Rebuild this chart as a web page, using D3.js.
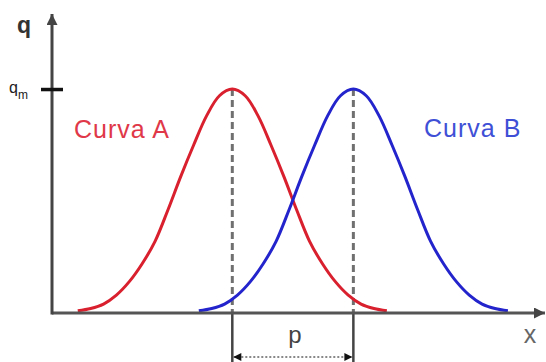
<!DOCTYPE html>
<html>
<head>
<meta charset="utf-8">
<script src="https://cdn.jsdelivr.net/npm/d3@7"></script>
<style>
  html, body { margin: 0; padding: 0; background: #fff; }
  svg { display: block; font-family: "Liberation Sans", Arial, sans-serif; }
</style>
</head>
<body>
<svg id="chart" width="546" height="362"></svg>
<script>
// Curve A samples: position along x and height q
const curveAx = [0.5, 0.75, 1.0, 1.25, 1.5, 1.75, 2.0, 2.25, 2.5, 2.75, 3.0, 3.25, 3.5,
                 3.75, 4.0, 4.25, 4.5, 4.75, 5.0, 5.25, 5.5, 5.75, 6.0, 6.25, 6.5];
const curveAq = [0.01, 0.02, 0.04, 0.08, 0.14, 0.22, 0.32, 0.46, 0.61, 0.75, 0.88, 0.97, 1.0,
                 0.97, 0.88, 0.75, 0.61, 0.46, 0.32, 0.22, 0.14, 0.08, 0.04, 0.02, 0.01];
// Curve B samples
const curveBx = [2.85, 3.1, 3.35, 3.6, 3.85, 4.1, 4.35, 4.6, 4.85, 5.1, 5.35, 5.6, 5.85,
                 6.1, 6.35, 6.6, 6.85, 7.1, 7.35, 7.6, 7.85, 8.1, 8.35, 8.6, 8.85];
const curveBq = [0.01, 0.02, 0.04, 0.08, 0.14, 0.22, 0.32, 0.46, 0.61, 0.75, 0.88, 0.97, 1.0,
                 0.97, 0.88, 0.75, 0.61, 0.46, 0.32, 0.22, 0.14, 0.08, 0.04, 0.02, 0.01];
// Peak positions and the maximum q
const peaks = [3.5, 5.85];
const qMax = 1.0;
const curveLabels = ["Curva A", "Curva B"];
const axisLabels = { y: "q", x: "x", gap: "p" };

const svg = d3.select("#chart");
const x = d3.scaleLinear().domain([0, 9.57]).range([52, 545]);
const y = d3.scaleLinear().domain([0, 1.335]).range([313, 14]);

const defs = svg.append("defs");
function arrowMarker(id, color, w, h) {
  defs.append("marker")
    .attr("id", id).attr("viewBox", "0 0 10 10")
    .attr("refX", 10).attr("refY", 5)
    .attr("markerWidth", w).attr("markerHeight", h)
    .attr("markerUnits", "userSpaceOnUse")
    .attr("orient", "auto-start-reverse")
    .append("path").attr("d", "M0,0 L10,5 L0,10 Z").attr("fill", color);
}
arrowMarker("axisArrow", "#444", 14, 11);
arrowMarker("dimArrow", "#111", 9, 8);

// Dashed guides from each peak down to the axis
svg.selectAll("line.guide").data(peaks).join("line")
  .attr("class", "guide")
  .attr("x1", d => x(d)).attr("x2", d => x(d))
  .attr("y1", y(qMax)).attr("y2", y(0))
  .attr("stroke", "#707070").attr("stroke-width", 3)
  .attr("stroke-dasharray", "7,4");

// Solid extension lines below the axis
svg.selectAll("line.ext").data(peaks).join("line")
  .attr("class", "ext")
  .attr("x1", d => x(d)).attr("x2", d => x(d))
  .attr("y1", y(0)).attr("y2", 362)
  .attr("stroke", "#444").attr("stroke-width", 2.5);

// Dimension arrow showing the separation p
svg.append("line")
  .attr("x1", x(peaks[0]) + 1).attr("x2", x(peaks[1]) - 1)
  .attr("y1", 357).attr("y2", 357)
  .attr("stroke", "#888").attr("stroke-width", 2)
  .attr("stroke-dasharray", "2,2")
  .attr("marker-start", "url(#dimArrow)")
  .attr("marker-end", "url(#dimArrow)");

svg.append("text")
  .attr("x", (x(peaks[0]) + x(peaks[1])) / 2 + 2).attr("y", 343)
  .attr("text-anchor", "middle").attr("font-size", 24).attr("fill", "#444")
  .text(axisLabels.gap);

// Curves
const line = d3.line().x(d => x(d[0])).y(d => y(d[1])).curve(d3.curveCatmullRom);
const series = [
  { xs: curveAx, qs: curveAq, color: "#d9202e" },
  { xs: curveBx, qs: curveBq, color: "#2424cc" }
];
series.forEach(s => {
  svg.append("path")
    .datum(d3.zip(s.xs, s.qs))
    .attr("fill", "none").attr("stroke", s.color).attr("stroke-width", 3)
    .attr("stroke-linejoin", "round")
    .attr("d", line);
});

// Axes
svg.append("line")
  .attr("x1", x(0)).attr("x2", x.range()[1])
  .attr("y1", y(0)).attr("y2", y(0))
  .attr("stroke", "#555").attr("stroke-width", 3)
  .attr("marker-end", "url(#axisArrow)");
svg.append("line")
  .attr("x1", x(0)).attr("x2", x(0))
  .attr("y1", y(0) + 1.5).attr("y2", y.range()[1])
  .attr("stroke", "#444").attr("stroke-width", 3)
  .attr("marker-end", "url(#axisArrow)");

// q_m tick on the vertical axis
const yAxis = d3.axisLeft(y).tickValues([qMax]).tickSize(0).tickFormat("");
const yAxisG = svg.append("g").attr("transform", `translate(${x(0)},0)`).call(yAxis);
yAxisG.select(".domain").remove();
yAxisG.selectAll(".tick").append("line")
  .attr("x1", -11).attr("x2", 11)
  .attr("stroke", "#111").attr("stroke-width", 3.5);

const qm = svg.append("text")
  .attr("x", 9).attr("y", y(qMax) + 4)
  .attr("font-size", 16).attr("fill", "#222");
qm.append("tspan").text("q");
qm.append("tspan").attr("font-size", 12).attr("dy", 6).text("m");

// Axis labels
svg.append("text").attr("x", 17).attr("y", 33)
  .attr("font-size", 23).attr("font-weight", "bold").attr("fill", "#333")
  .text(axisLabels.y);
svg.append("text").attr("x", 530).attr("y", 343)
  .attr("text-anchor", "middle").attr("font-size", 25).attr("fill", "#666")
  .text(axisLabels.x);

// Curve labels
svg.append("text").attr("x", 74).attr("y", 138)
  .attr("font-size", 25).attr("letter-spacing", 1).attr("fill", "#e03848")
  .text(curveLabels[0]);
svg.append("text").attr("x", 424).attr("y", 137)
  .attr("font-size", 25).attr("letter-spacing", 1).attr("fill", "#4050d6")
  .text(curveLabels[1]);
</script>
</body>
</html>
